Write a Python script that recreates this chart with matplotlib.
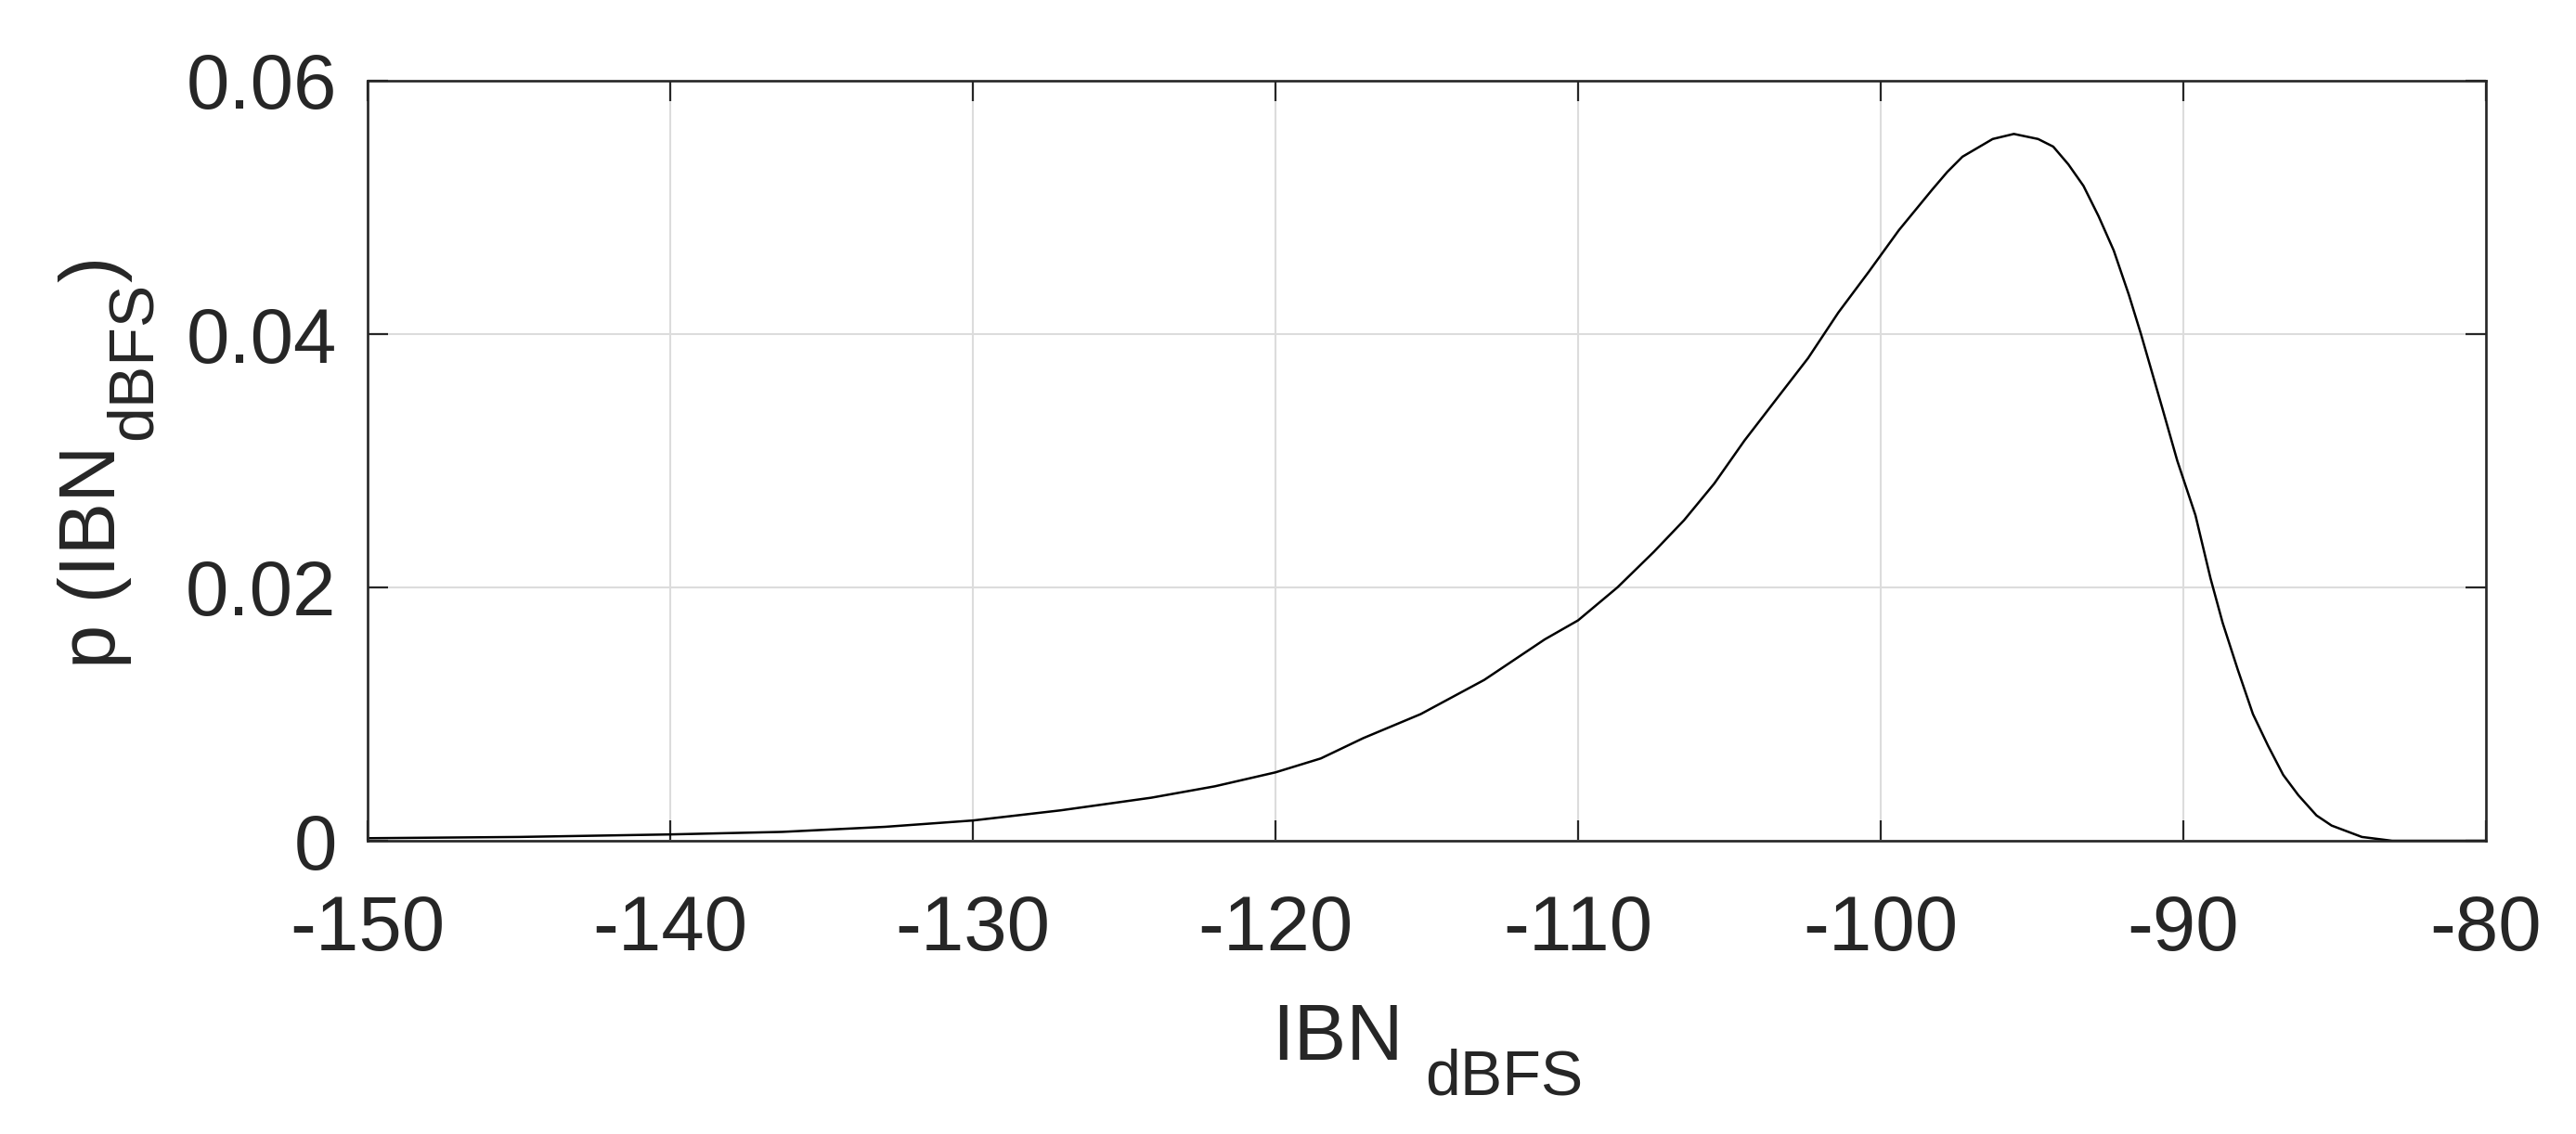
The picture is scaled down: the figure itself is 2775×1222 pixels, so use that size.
import matplotlib
matplotlib.use("Agg")
import matplotlib.pyplot as plt

# --- values ---
ibn_dbfs = [-150, -145, -140, -136.3, -132.9, -130, -127.1, -125.6, -124.1,
            -122, -120, -118.5, -117.1, -115.2, -113.1, -111.1, -110, -108.7,
            -107.5, -106.5, -105.5, -104.5, -103.5, -102.4, -101.4, -100.4,
            -99.4, -98.3, -97.8, -97.3, -96.3, -95.6, -94.8, -94.3, -93.8,
            -93.3, -92.8, -92.3, -91.8, -91.4, -90.7, -90.2, -89.6, -89.1,
            -88.7, -88.2, -87.7, -87.2, -86.7, -86.2, -85.6, -85.1, -84.1,
            -83.1, -80]
p_ibn = [0.0002, 0.0003, 0.0005, 0.0007, 0.0011, 0.0016, 0.0024, 0.0029, 0.0034,
         0.0043, 0.0054, 0.0065, 0.0081, 0.0100, 0.0127, 0.0159, 0.0174, 0.0200,
         0.0228, 0.0253, 0.0282, 0.0316, 0.0347, 0.0381, 0.0417, 0.0449,
         0.0482, 0.0514, 0.0528, 0.0540, 0.0554, 0.0558, 0.0554, 0.0548, 0.0534,
         0.0517, 0.0493, 0.0466, 0.0431, 0.0400, 0.0342, 0.0300, 0.0257, 0.0207,
         0.0172, 0.0135, 0.0100, 0.0075, 0.0052, 0.0036, 0.0020, 0.0012, 0.0003,
         0.0, 0.0]

x_ticks = [-150, -140, -130, -120, -110, -100, -90, -80]
y_ticks = [0, 0.02, 0.04, 0.06]
y_tick_labels = ['0', '0.02', '0.04', '0.06']

plt.rcParams['font.family'] = ['Liberation Sans', 'DejaVu Sans']

txt = '#262626'
W, H = 2775, 1222

fig = plt.figure(figsize=(W / 100, H / 100), dpi=100)
ax = fig.add_axes([396 / W, 1 - 906 / H, (2678 - 396) / W, (906 - 87) / H])

ax.plot(ibn_dbfs, p_ibn, color='black', linewidth=1.8)

ax.set_xlim(-150, -80)
ax.set_ylim(0, 0.06)
ax.set_xticks(x_ticks)
ax.set_xticklabels([str(t) for t in x_ticks])
ax.set_yticks(y_ticks)
ax.set_yticklabels(y_tick_labels)

ax.grid(True, color='#dcdcdc', linewidth=1.5)
ax.set_axisbelow(True)

for s in ax.spines.values():
    s.set_color(txt)
    s.set_linewidth(1.9)

ax.tick_params(axis='both', direction='in', length=16, width=1.6, color=txt,
               labelsize=60, labelcolor=txt, top=True, right=True)
ax.tick_params(axis='x', pad=41)
ax.tick_params(axis='y', pad=24)

# x label: IBN with a separate, lowered dBFS
fig.text(1370 / W, 1 - 1142 / H, 'IBN', fontsize=61, color=txt,
         ha='left', va='baseline')
fig.text(1535 / W, 1 - 1180 / H, 'dBFS', fontsize=49, color=txt,
         ha='left', va='baseline')

# y label: p (IBN_dBFS), rotated
rot = dict(rotation=90, rotation_mode='anchor', ha='left', va='baseline', color=txt)
fig.text(124 / W, 1 - 720 / H, 'p (IBN', fontsize=61, **rot)
fig.text(163 / W, 1 - 474 / H, 'dBFS', fontsize=49, **rot)
fig.text(124 / W, 1 - 304 / H, ')', fontsize=61, **rot)

fig.savefig('out.png', dpi=100)
